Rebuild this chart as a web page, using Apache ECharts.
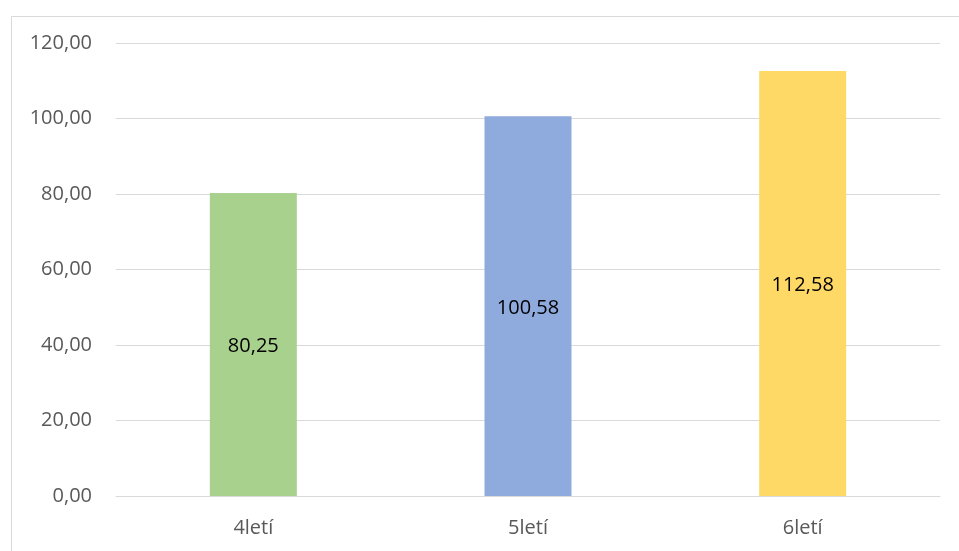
<!DOCTYPE html>
<html>
<head>
<meta charset="utf-8">
<script src="https://cdn.jsdelivr.net/npm/echarts@6/dist/echarts.min.js"></script>
<style>
  html, body { margin: 0; padding: 0; background: #fff; }
  #chart { width: 959px; height: 551px; }
</style>
</head>
<body>
<div id="chart"></div>
<script>
// Category labels and values
const categories = ['4letí', '5letí', '6letí'];
const values = [80.25, 100.58, 112.58];
const barColors = ['#A9D18E', '#8FAADC', '#FFD966'];

// Value axis range
const yMin = 0;
const yMax = 120;
const yStep = 20;

const fmt = v => Number(v).toFixed(2).replace('.', ',');
const FONT = '"Open Sans", "Liberation Sans", sans-serif';

const chart = echarts.init(document.getElementById('chart'), null, { renderer: 'canvas' });

chart.setOption({
  animation: false,
  backgroundColor: '#ffffff',
  graphic: [{
    type: 'rect',
    left: 9,
    top: 14,
    shape: { width: 1000, height: 600 },
    style: { fill: 'none', stroke: '#d9d9d9', lineWidth: 1 },
    silent: true
  }],
  grid: { left: 116, right: 19, top: 43, bottom: 55, containLabel: false },
  xAxis: {
    type: 'category',
    data: categories,
    axisLine: { show: true, lineStyle: { color: '#d9d9d9', width: 1 } },
    axisTick: { show: false },
    axisLabel: { color: '#595959', fontSize: 20, fontFamily: FONT, margin: 22 }
  },
  yAxis: {
    type: 'value',
    min: yMin,
    max: yMax,
    interval: yStep,
    axisLine: { show: false },
    axisTick: { show: false },
    splitLine: { lineStyle: { color: '#d9d9d9', width: 1 } },
    axisLabel: {
      color: '#595959', fontSize: 20, fontFamily: FONT, margin: 24,
      formatter: fmt
    }
  },
  series: [{
    type: 'bar',
    barWidth: 87,
    data: values.map((v, i) => ({ value: v, itemStyle: { color: barColors[i] } })),
    label: {
      show: true,
      position: 'inside',
      offset: [0, 2],
      color: '#000000',
      fontSize: 20,
      fontFamily: FONT,
      formatter: p => fmt(p.value)
    }
  }]
});
</script>
</body>
</html>
